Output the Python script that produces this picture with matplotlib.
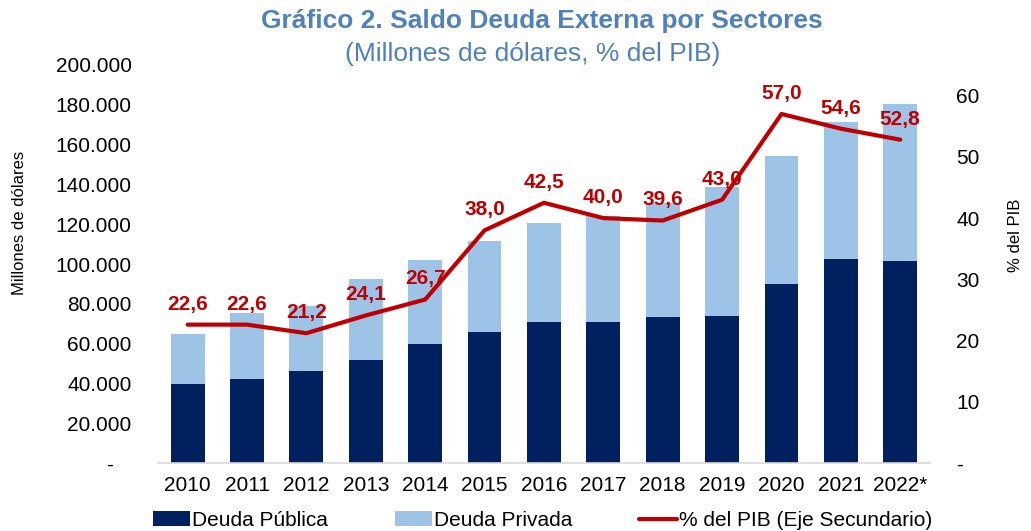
import numpy as np
import matplotlib
matplotlib.use("Agg")
import matplotlib.pyplot as plt
from matplotlib.ticker import FuncFormatter

plt.rcParams['font.family'] = ['Liberation Sans', 'DejaVu Sans']

# Data
years = ['2010', '2011', '2012', '2013', '2014', '2015', '2016',
         '2017', '2018', '2019', '2020', '2021', '2022*']
deuda_publica = [39500, 42200, 46100, 51800, 59800, 66000, 71000,
                 71000, 73200, 73900, 90100, 102500, 101300]
deuda_total = [64800, 75500, 78900, 92500, 101900, 111600, 120400,
               124100, 130500, 138900, 154400, 171500, 180400]
pct_pib = [22.6, 22.6, 21.2, 24.1, 26.7, 38.0, 42.5,
           40.0, 39.6, 43.0, 57.0, 54.6, 52.8]

deuda_privada = [t - p for t, p in zip(deuda_total, deuda_publica)]

navy = '#002060'
light = '#9DC3E6'
red = '#C00000'
title_blue = '#4F81BD'

fig = plt.figure(figsize=(10.31, 5.31), dpi=100)
ax = fig.add_axes([0.1532, 0.128, 0.7488, 0.7496])
x = np.arange(len(years))

b1 = ax.bar(x, deuda_publica, width=0.57, color=navy, label='Deuda Pública')
b2 = ax.bar(x, deuda_privada, width=0.57, bottom=deuda_publica,
            color=light, label='Deuda Privada')

ax.set_xlim(-0.5, len(years) - 0.5)
ax.set_ylim(0, 200000)
ax.set_yticks(np.arange(0, 200001, 20000))
ax.yaxis.set_major_formatter(FuncFormatter(
    lambda v, p: '-   ' if v == 0 else f'{int(v):,}'.replace(',', '.')))
ax.set_xticks(x)
ax.set_xticklabels(years)
ax.tick_params(axis='y', length=0, pad=19, labelsize=15)
ax.tick_params(axis='x', length=0, pad=9, labelsize=15)
for s in ['top', 'right', 'left']:
    ax.spines[s].set_visible(False)
ax.spines['bottom'].set_color('#D9D9D9')
ax.spines['bottom'].set_linewidth(1.2)
ax.set_ylabel('Millones de dólares', fontsize=12)
ax.yaxis.set_label_coords(-0.170, 0.602)

# Secondary axis
ax2 = ax.twinx()
line, = ax2.plot(x, pct_pib, color=red, linewidth=3,
                 label='% del PIB (Eje Secundario)', solid_capstyle='round')
ax2.set_ylim(0, 65)
ax2.set_yticks(np.arange(0, 61, 10))
ax2.yaxis.set_major_formatter(FuncFormatter(
    lambda v, p: '-' if v == 0 else f'{int(v)}'))
ax2.tick_params(axis='y', length=0, pad=19, labelsize=15)
for s in ['top', 'right', 'left', 'bottom']:
    ax2.spines[s].set_visible(False)
ax2.set_ylabel('% del PIB', fontsize=12)
ax2.yaxis.set_label_coords(1.101, 0.573)

for xi, v in zip(x, pct_pib):
    ax2.annotate(f'{v:.1f}'.replace('.', ','), (xi, v), xytext=(0, 8),
                 textcoords='offset points', ha='center', va='bottom',
                 color=red, fontsize=15, fontweight='bold')

# Titles
fig.text(0.526, 0.960, 'Gráfico 2. Saldo Deuda Externa por Sectores',
         ha='center', va='center', fontsize=19, fontweight='bold',
         color=title_blue)
fig.text(0.517, 0.899, '(Millones de dólares, % del PIB)',
         ha='center', va='center', fontsize=19, color=title_blue)

# Legend
fig.legend(handles=[b1, b2, line], loc='center', ncol=3,
           bbox_to_anchor=(0.526, 0.02), frameon=False, fontsize=15,
           handlelength=1.8, handleheight=0.7, handletextpad=0.1,
           columnspacing=3.2)

fig.savefig('out.png', dpi=100)
